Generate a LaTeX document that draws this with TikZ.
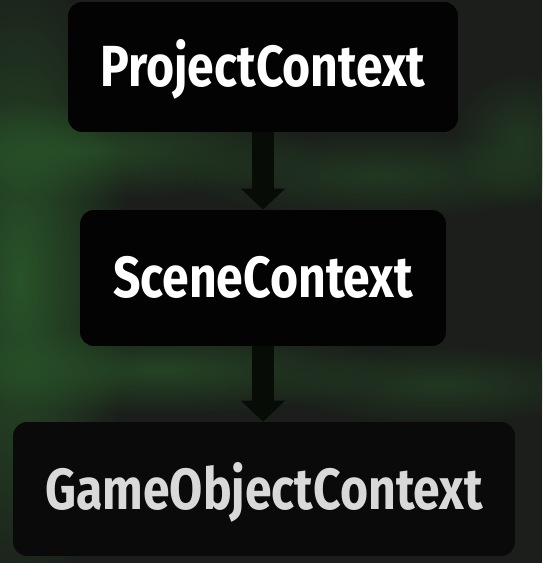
\documentclass[tikz,border=0pt]{standalone}
\usepackage{fontspec}
\usepackage{xcolor}
\usetikzlibrary{arrows.meta, fadings}
\newfontfamily\ctxfont{Fira Sans}[FakeStretch=0.83]

\definecolor{bgdark}{HTML}{1B1E1B}
\definecolor{codegreen}{HTML}{2E6A2E}
\definecolor{boxblack}{HTML}{030303}
\definecolor{boxgrey}{HTML}{0A0A0A}
\definecolor{arrowblack}{HTML}{070C07}

\tikzfading[name=blurout, inner color=transparent!0, outer color=transparent!100]

\tikzset{
  ctxbox/.style={fill=boxblack, rounded corners=8pt, inner sep=0pt,
    text=white, font=\ctxfont\bfseries\fontsize{33}{36}\selectfont,
    text height=0.8cm, text depth=0pt},
  ctxarrow/.style={draw=arrowblack, line width=0.44cm,
    -{Triangle[width=0.86cm, length=0.42cm]}},
  codeblur/.style={fill=codegreen, path fading=blurout}
}

\begin{document}
\begin{tikzpicture}[x=0.02cm, y=-0.02cm]
      \useasboundingbox (0,0) rectangle (542,563);
      % blurred code in the background
      \fill[bgdark] (0,0) rectangle (542,563);
      \fill[codeblur, opacity=0.7] (20,280) ellipse (110 and 330);
      \fill[codeblur, opacity=0.5] (90,150) ellipse (230 and 50);
      \fill[codeblur, opacity=0.35] (380,175) ellipse (210 and 45);
      \fill[codeblur, opacity=0.5] (160,370) ellipse (240 and 45);
      \fill[codeblur, opacity=0.35] (440,385) ellipse (170 and 40);
      \fill[codeblur, opacity=0.35] (520,140) ellipse (70 and 70);

      \node[ctxbox, minimum width=7.8cm, minimum height=2.6cm] (project) at (263,67) {ProjectContext};
      \node[ctxbox, minimum width=7.32cm, minimum height=2.72cm] (scene) at (263,278) {SceneContext};
      \node[ctxbox, fill=boxgrey, text=white!85!black, minimum width=10.04cm, minimum height=2.68cm] (gameobject) at (264,489) {GameObjectContext};

      \draw[ctxarrow] (project.south) -- (scene.north);
      \draw[ctxarrow] (scene.south) -- (scene.south |- gameobject.north);
    \end{tikzpicture}
\end{document}
